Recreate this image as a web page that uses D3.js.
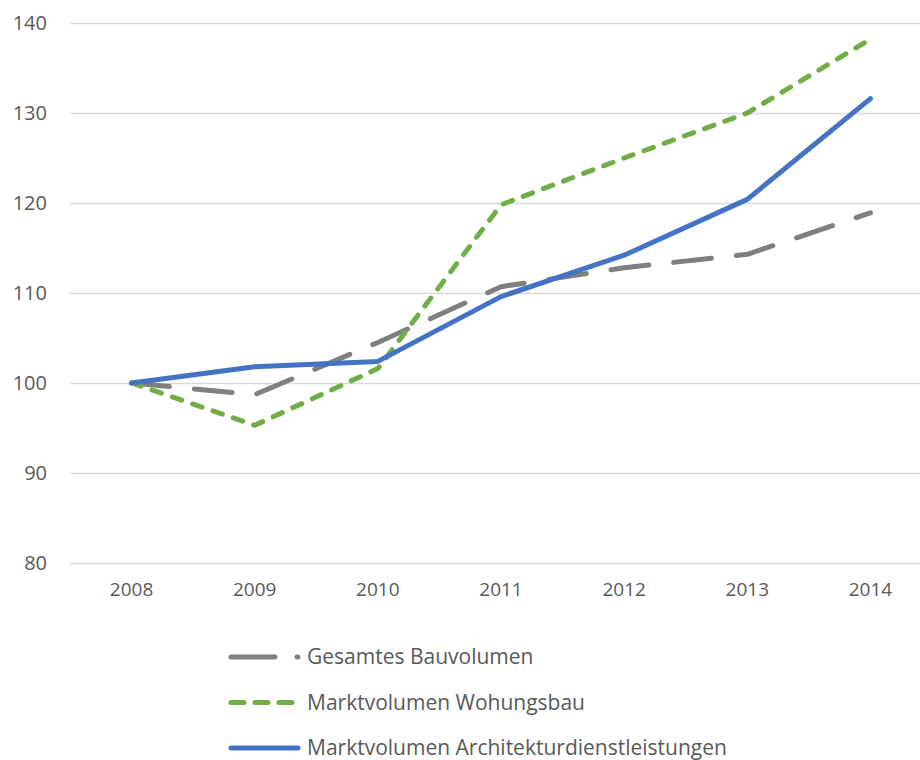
<!DOCTYPE html>
<html>
<head>
<meta charset="utf-8">
<script src="https://cdn.jsdelivr.net/npm/d3@7"></script>
<style>
  body { margin: 0; background: #fff; }
  svg text { font-family: "Open Sans", sans-serif; fill: #595959; }
</style>
</head>
<body>
<div class="chart"></div>
<script>
var years = ["2008", "2009", "2010", "2011", "2012", "2013", "2014"],
    gesamt = [100, 98.7, 104.5, 110.7, 112.8, 114.3, 118.9],
    wohnungsbau = [100, 95.3, 101.6, 119.8, 125, 130, 138.2],
    architektur = [100, 101.8, 102.4, 109.6, 114.2, 120.4, 131.6],
    yTicks = [80, 90, 100, 110, 120, 130, 140];

var series = [
  {name: "Gesamtes Bauvolumen", values: gesamt, color: "#7f7f7f", dash: "38,25", legendDash: "44,22"},
  {name: "Marktvolumen Wohungsbau", values: wohnungsbau, color: "#70ad47", dash: "10,11.5", legendDash: "13,11"},
  {name: "Marktvolumen Architekturdienstleistungen", values: architektur, color: "#4472c4", dash: null, legendDash: null}
];

var outerWidth = 920,
    outerHeight = 760,
    margin = {left: 70, top: 23, right: -12, bottom: 197},
    width = outerWidth - margin.left - margin.right,
    height = outerHeight - margin.top - margin.bottom;

var xScale = d3.scaleBand().domain(years).range([0, width]),
    yScale = d3.scaleLinear().domain([80, 140]).range([height, 0]);

var svg = d3.select(".chart").append("svg")
    .attr("width", outerWidth)
    .attr("height", outerHeight)
  .append("g")
    .attr("transform", "translate(" + margin.left + "," + margin.top + ")");

// gridlines + y labels
var yAxis = d3.axisLeft(yScale).tickValues(yTicks).tickSize(-width).tickPadding(23);
svg.append("g")
    .attr("class", "axis axis--y")
    .call(yAxis)
    .call(function(g) {
      g.select(".domain").remove();
      g.selectAll(".tick line").attr("stroke", "#d9d9d9").attr("stroke-width", 1.5);
      g.selectAll(".tick text").style("font-size", "20px").attr("fill", "#595959");
    });

var xAxis = d3.axisBottom(xScale).tickSize(0).tickPadding(20);
svg.append("g")
    .attr("class", "axis axis--x")
    .attr("transform", "translate(0," + height + ")")
    .call(xAxis)
    .call(function(g) {
      g.select(".domain").remove();
      g.selectAll(".tick text").style("font-size", "19px").attr("fill", "#595959");
    });

var line = d3.line()
    .x(function(d, i) { return xScale(years[i]) + xScale.bandwidth() / 2; })
    .y(function(d) { return yScale(d); });

series.forEach(function(s) {
  svg.append("path")
      .datum(s.values)
      .attr("d", line)
      .attr("fill", "none")
      .attr("stroke", s.color)
      .attr("stroke-width", 5)
      .attr("stroke-linecap", "round")
      .attr("stroke-linejoin", "round")
      .attr("stroke-dasharray", s.dash);
});

// legend
var legend = d3.select("svg").append("g")
    .attr("class", "legend")
    .attr("transform", "translate(231,657)");

var row = legend.selectAll(".row")
    .data(series)
  .enter().append("g")
    .attr("class", "row")
    .attr("transform", function(d, i) { return "translate(0," + (i * 45.5) + ")"; });

row.append("line")
    .attr("x1", 0).attr("x2", 67)
    .attr("stroke", function(d) { return d.color; })
    .attr("stroke-width", 5)
    .attr("stroke-linecap", "round")
    .attr("stroke-dasharray", function(d) { return d.legendDash; });

row.append("text")
    .attr("x", 76)
    .attr("dy", "0.35em")
    .style("font-size", "21px")
    .text(function(d) { return d.name; });
</script>
</body>
</html>
